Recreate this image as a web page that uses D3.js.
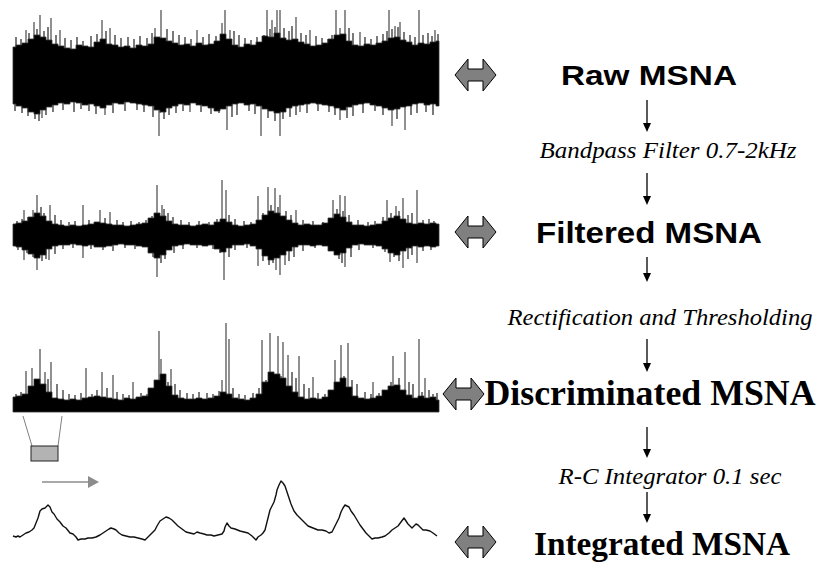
<!DOCTYPE html>
<html>
<head>
<meta charset="utf-8">
<script src="https://cdn.jsdelivr.net/npm/d3@7"></script>
<style>
  body { margin: 0; background: #ffffff; }
</style>
</head>
<body>
<div id="chart"></div>
<script>
// MSNA processing steps - four traces with labels and arrows

// Trace data (amplitudes, one sample every ~6px of the trace)
var rawUpper = [28,30,32,36,40,38,35,31,29,27,26,30,29,28,33,36,31,30,28,29,27,30,29,31,38,37,34,32,30,31,29,32,30,31,34,41,36,30,28,31,30,33,39,38,42,37,35,36,33,31,29,30,32,36,40,41,34,30,29,31,30,32,34,37,38,35,33,30,32,31,33,34];
var rawLower = [29,31,33,37,39,35,32,30,28,29,27,28,30,29,31,33,30,28,29,27,28,29,30,31,35,37,33,31,29,30,28,30,31,33,36,34,31,29,28,30,29,31,34,36,38,37,33,31,30,29,28,29,30,31,33,35,32,30,29,28,30,31,33,35,34,32,31,29,28,30,29,31];
var rawSpikesUp = [[13,45],[21,53],[27,60],[38,57],[47,45],[89,55],[97,47],[142,47],[148,65],[184,45],[209,52],[212,65],[217,45],[254,65],[259,55],[264,65],[267,65],[283,58],[297,45],[323,65],[327,47],[332,65],[347,43],[376,65],[382,49],[387,53],[406,65],[422,45]];
var rawSpikesDown = [[29,43],[92,40],[146,61],[147,38],[177,37],[214,55],[248,61],[267,61],[287,37],[327,45],[379,51],[392,55]];
var rawHairsUp = [[3,38],[8,36],[16,42],[24,46],[31,44],[35,48],[43,40],[52,37],[58,35],[64,38],[70,34],[78,39],[84,41],[93,44],[102,40],[108,37],[115,38],[121,36],[127,39],[134,37],[139,42],[154,46],[160,44],[166,40],[172,38],[178,36],[190,38],[196,41],[203,39],[221,44],[226,40],[232,37],[238,35],[244,38],[251,40],[257,46],[262,48],[271,47],[276,44],[279,49],[288,42],[293,40],[303,39],[309,37],[315,36],[319,40],[336,47],[340,42],[352,38],[358,36],[364,39],[370,41],[374,44],[379,46],[385,48],[391,43],[397,40],[402,38],[410,40],[415,42],[419,39],[425,41]];
var rawHairsDown = [[2,36],[9,38],[15,41],[22,44],[26,46],[33,40],[40,37],[50,35],[61,37],[68,34],[76,36],[83,39],[100,38],[112,36],[124,35],[131,37],[140,42],[151,44],[156,40],[163,38],[170,36],[188,37],[198,39],[206,38],[219,42],[224,40],[236,36],[242,39],[255,43],[262,46],[270,44],[277,42],[283,40],[294,38],[305,36],[316,37],[322,40],[334,43],[340,41],[350,38],[362,36],[370,40],[384,44],[398,40],[404,38],[413,37],[420,40]];

var filtUpper = [11,12,14,18,22,19,14,11,10,9,10,9,10,11,13,12,11,10,10,9,10,11,12,17,22,19,14,11,10,10,9,10,11,10,13,16,13,10,9,10,11,15,20,24,22,19,15,12,10,11,10,10,12,17,21,18,13,10,10,9,10,11,14,17,19,16,12,11,12,11,12,11];
var filtLower = [11,12,15,19,23,20,14,11,10,10,9,10,11,10,12,12,11,10,9,10,10,11,12,18,23,20,15,11,10,9,10,10,11,10,14,17,13,10,10,9,11,14,21,25,23,20,16,12,10,10,11,10,11,16,20,18,13,10,9,10,10,11,14,18,20,16,13,11,12,11,12,11];
var filtSpikesUp = [[11,25],[20,25],[24,40],[37,30],[70,30],[87,25],[97,23],[144,50],[149,30],[209,55],[213,45],[245,39],[255,48],[262,47],[267,40],[283,25],[320,35],[327,40],[332,39],[374,35],[383,29],[390,37],[404,45]];
var filtSpikesDown = [[11,25],[24,35],[36,25],[70,23],[144,42],[211,45],[245,31],[263,35],[267,40],[272,30],[332,32],[377,27],[390,33],[404,28]];
var filtHairsUp = [[4,14],[9,16],[15,18],[28,28],[31,22],[42,20],[48,15],[56,13],[62,14],[76,15],[82,13],[92,17],[104,15],[110,13],[118,14],[126,13],[133,15],[139,19],[151,26],[155,22],[160,18],[168,15],[176,13],[186,14],[196,13],[204,16],[216,20],[222,16],[231,14],[238,13],[250,22],[258,30],[265,28],[273,24],[278,20],[290,15],[300,14],[310,13],[316,16],[324,26],[330,24],[336,20],[345,15],[355,13],[362,14],[370,18],[378,22],[386,24],[395,20],[399,22],[410,15],[416,16],[421,14]];
var filtHairsDown = [[5,15],[14,18],[20,22],[29,26],[33,24],[42,19],[50,14],[60,13],[78,14],[90,15],[100,16],[112,13],[122,14],[136,17],[140,22],[148,28],[152,24],[161,18],[170,14],[184,13],[200,14],[207,18],[216,22],[222,15],[234,13],[250,26],[256,30],[260,28],[276,26],[281,22],[290,16],[302,13],[318,15],[326,24],[329,28],[338,22],[346,15],[360,13],[372,17],[381,22],[386,26],[395,24],[399,20],[410,16],[418,15]];

var discUpper = [15,16,18,26,33,28,20,14,13,12,13,12,14,15,16,15,14,13,12,14,13,15,16,24,32,38,26,17,14,13,13,14,13,14,16,20,18,14,13,12,14,18,30,40,38,34,26,20,15,13,14,13,15,22,30,34,25,16,14,13,14,16,22,26,27,22,17,14,16,14,15,12];
var discSpikes = [[13,41],[19,44],[27,63],[32,40],[38,50],[73,44],[89,40],[100,37],[120,30],[146,81],[148,53],[158,43],[209,32],[213,89],[216,73],[249,72],[257,79],[265,76],[270,70],[275,57],[286,56],[300,35],[322,52],[328,67],[335,69],[360,30],[380,56],[392,60],[406,73],[412,34]];
var discHairs = [[3,18],[8,20],[16,24],[22,30],[35,33],[44,28],[50,22],[56,18],[62,17],[68,19],[79,18],[84,22],[94,24],[104,20],[110,18],[116,17],[128,19],[134,18],[138,22],[142,26],[152,36],[155,30],[162,28],[167,22],[174,19],[180,18],[186,20],[194,19],[200,18],[206,21],[220,24],[226,18],[232,17],[240,19],[246,24],[253,32],[261,38],[268,36],[279,40],[283,34],[291,28],[296,24],[305,19],[312,18],[318,20],[325,28],[331,36],[339,32],[344,28],[352,20],[358,18],[366,19],[372,22],[378,30],[386,34],[396,30],[400,28],[409,20],[416,22],[420,18],[424,19]];

// Integrated trace: [time, amplitude]
var integrated = [[0,4],[3,3],[5,4],[7,3],[10,5],[13,7],[16,8],[19,10],[21,12],[23,17],[25,22],[27,29],[29,31],[32,32],[34,34],[35,35],[37,33],[39,28],[41,26],[44,21],[47,18],[50,14],[53,12],[57,7],[60,6],[63,3],[65,0],[68,1],[72,1],[75,2],[79,2],[83,3],[87,5],[90,7],[93,9],[96,11],[98,12],[101,11],[103,10],[106,7],[109,5],[113,4],[117,3],[121,3],[125,2],[129,1],[132,0],[135,3],[137,5],[140,8],[142,10],[144,14],[147,19],[150,21],[153,23],[156,22],[159,20],[162,17],[165,14],[169,11],[173,8],[177,7],[181,6],[184,8],[187,7],[191,6],[194,5],[198,5],[201,4],[205,5],[209,6],[211,9],[212,13],[214,17],[216,14],[218,12],[222,11],[227,9],[231,8],[235,7],[239,4],[243,0],[245,3],[248,5],[250,7],[252,10],[254,18],[257,30],[259,34],[261,38],[263,45],[264,50],[266,55],[268,59],[270,57],[272,54],[274,48],[276,42],[278,36],[281,29],[284,25],[287,22],[291,18],[295,14],[300,12],[305,10],[309,10],[313,9],[316,7],[319,8],[321,12],[323,16],[326,22],[328,28],[330,32],[332,35],[334,34],[336,33],[338,29],[341,25],[344,20],[347,15],[350,11],[353,7],[356,4],[359,1],[362,2],[365,2],[369,3],[372,4],[376,7],[379,10],[382,12],[385,14],[388,18],[391,22],[393,19],[395,16],[397,14],[399,12],[401,14],[403,16],[405,15],[408,12],[410,10],[413,10],[417,9],[420,7],[424,4]];

// Labels
var stageLabels = ['Raw MSNA', 'Filtered MSNA', 'Discriminated MSNA', 'Integrated MSNA'];
var stepLabels = ['Bandpass Filter 0.7-2kHz', 'Rectification and Thresholding', 'R-C Integrator 0.1 sec'];


// SVG
var svg = d3.select('#chart')
  .append('svg')
  .attr('width', 817)
  .attr('height', 563);


// Scales
var tMax = 426;
var xLeft = 13, xRight = 439;
var xTime = d3.scaleLinear().domain([0, tMax]).range([xLeft, xRight]);
function idxScale(arr) {
  return d3.scaleLinear().domain([0, arr.length - 1]).range([xLeft, xRight]);
}

var yRaw = d3.scaleLinear().domain([-70, 70]).range([145, 5]);
var yFilt = d3.scaleLinear().domain([-60, 60]).range([295, 175]);
var yDisc = d3.scaleLinear().domain([0, 100]).range([412, 312]);
var yInt = d3.scaleLinear().domain([0, 60]).range([540, 480]);


// Vertical strokes from the trace centre (spikes grey, hairs dark)
function drawSpikes(data, yScale, sign, cls, color, width) {
  svg.selectAll('.' + cls)
    .data(data)
    .enter()
    .append('line')
    .attr('class', cls)
    .attr('x1', function (d) { return xTime(d[0]); })
    .attr('x2', function (d) { return xTime(d[0]); })
    .attr('y1', yScale(0))
    .attr('y2', function (d) { return yScale(sign * d[1]); })
    .attr('stroke', color)
    .attr('stroke-width', width);
}

drawSpikes(rawSpikesUp, yRaw, 1, 'raw-up', '#555555', 1.3);
drawSpikes(rawSpikesDown, yRaw, -1, 'raw-down', '#555555', 1.3);
drawSpikes(filtSpikesUp, yFilt, 1, 'filt-up', '#555555', 1.3);
drawSpikes(filtSpikesDown, yFilt, -1, 'filt-down', '#555555', 1.3);
drawSpikes(discSpikes, yDisc, 1, 'disc-spike', '#555555', 1.3);

drawSpikes(rawHairsUp, yRaw, 1, 'raw-hair-up', '#222222', 1.2);
drawSpikes(rawHairsDown, yRaw, -1, 'raw-hair-down', '#222222', 1.2);
drawSpikes(filtHairsUp, yFilt, 1, 'filt-hair-up', '#222222', 1.2);
drawSpikes(filtHairsDown, yFilt, -1, 'filt-hair-down', '#222222', 1.2);
drawSpikes(discHairs, yDisc, 1, 'disc-hair', '#222222', 1.2);


// Bands
function drawBand(upper, lower, yScale) {
  var xi = idxScale(upper);
  var area = d3.area()
    .x(function (d, i) { return xi(i); })
    .y0(function (d, i) { return yScale(lower ? -lower[i] : 0); })
    .y1(function (d) { return yScale(d); })
    .curve(d3.curveStep);
  svg.append('path')
    .datum(upper)
    .attr('d', area)
    .attr('fill', '#000000')
    .attr('stroke', '#333333')
    .attr('stroke-width', 0.8);
}

drawBand(rawUpper, rawLower, yRaw);
drawBand(filtUpper, filtLower, yFilt);
drawBand(discUpper, null, yDisc);


// Integrated trace
var intLine = d3.line()
  .x(function (d) { return xTime(d[0]); })
  .y(function (d) { return yInt(d[1]); });

svg.append('path')
  .datum(integrated)
  .attr('d', intLine)
  .attr('fill', 'none')
  .attr('stroke', '#111111')
  .attr('stroke-width', 1.4)
  .attr('stroke-linejoin', 'round');


// Integrator window box below the discriminated trace
svg.append('line').attr('x1', 23).attr('y1', 416).attr('x2', 32).attr('y2', 446)
  .attr('stroke', '#808080').attr('stroke-width', 1);
svg.append('line').attr('x1', 62).attr('y1', 416).attr('x2', 58).attr('y2', 446)
  .attr('stroke', '#808080').attr('stroke-width', 1);
svg.append('rect')
  .attr('x', 31).attr('y', 446).attr('width', 27).attr('height', 15)
  .attr('fill', '#b3b3b3').attr('stroke', '#222222').attr('stroke-width', 1);

// Gray direction arrow
svg.append('line').attr('x1', 42).attr('y1', 482).attr('x2', 89).attr('y2', 482)
  .attr('stroke', '#8c8c8c').attr('stroke-width', 1.5);
svg.append('path')
  .attr('d', 'M88,476 L99,482 L88,488 Z')
  .attr('fill', '#8c8c8c');


// Double-headed gray arrows
var dblArrows = [{x: 455, y: 75}, {x: 455, y: 232}, {x: 443, y: 394}, {x: 455, y: 542}];
svg.selectAll('.dbl-arrow')
  .data(dblArrows)
  .enter()
  .append('path')
  .attr('class', 'dbl-arrow')
  .attr('d', function (d) {
    var x = d.x, y = d.y, w = 41, h = 16, s = 6, hw = 13;
    return 'M' + x + ',' + y +
      ' L' + (x + hw) + ',' + (y - h) +
      ' L' + (x + hw) + ',' + (y - s) +
      ' L' + (x + w - hw) + ',' + (y - s) +
      ' L' + (x + w - hw) + ',' + (y - h) +
      ' L' + (x + w) + ',' + y +
      ' L' + (x + w - hw) + ',' + (y + h) +
      ' L' + (x + w - hw) + ',' + (y + s) +
      ' L' + (x + hw) + ',' + (y + s) +
      ' L' + (x + hw) + ',' + (y + h) + ' Z';
  })
  .attr('fill', '#808080')
  .attr('stroke', '#000000')
  .attr('stroke-width', 1);


// Down arrows
var downArrows = [[100, 132], [173, 205], [257, 282], [339, 372], [427, 458], [492, 523]];
svg.selectAll('.down-arrow')
  .data(downArrows)
  .enter()
  .append('line')
  .attr('x1', 647).attr('x2', 647)
  .attr('y1', function (d) { return d[0]; })
  .attr('y2', function (d) { return d[1] - 8; })
  .attr('stroke', '#000000')
  .attr('stroke-width', 1.3);
svg.selectAll('.down-head')
  .data(downArrows)
  .enter()
  .append('path')
  .attr('d', function (d) { return 'M643,' + (d[1] - 9) + ' L651,' + (d[1] - 9) + ' L647,' + d[1] + ' Z'; })
  .attr('fill', '#000000');


// Stage labels
var stageSpecs = [
  {x: 649, y: 85, font: 'bold 28px "Liberation Sans", Arial, sans-serif', len: 176},
  {x: 649, y: 243, font: 'bold 30px "Liberation Sans", Arial, sans-serif', len: 226},
  {x: 650, y: 405, font: 'bold 36px "Liberation Serif", "Times New Roman", serif', len: 331},
  {x: 662, y: 555, font: 'bold 34px "Liberation Serif", "Times New Roman", serif', len: 256}
];
svg.selectAll('.stage-label')
  .data(stageLabels)
  .enter()
  .append('text')
  .attr('class', 'stage-label')
  .attr('x', function (d, i) { return stageSpecs[i].x; })
  .attr('y', function (d, i) { return stageSpecs[i].y; })
  .attr('text-anchor', 'middle')
  .attr('textLength', function (d, i) { return stageSpecs[i].len; })
  .attr('lengthAdjust', 'spacingAndGlyphs')
  .style('font', function (d, i) { return stageSpecs[i].font; })
  .text(function (d) { return d; });

// Processing step labels
var stepSpecs = [
  {x: 668, y: 158, len: 257},
  {x: 660, y: 325, len: 305},
  {x: 670, y: 484, len: 223}
];
svg.selectAll('.step-label')
  .data(stepLabels)
  .enter()
  .append('text')
  .attr('class', 'step-label')
  .attr('x', function (d, i) { return stepSpecs[i].x; })
  .attr('y', function (d, i) { return stepSpecs[i].y; })
  .attr('text-anchor', 'middle')
  .attr('textLength', function (d, i) { return stepSpecs[i].len; })
  .attr('lengthAdjust', 'spacingAndGlyphs')
  .style('font', 'italic 24px "Liberation Serif", "Times New Roman", serif')
  .text(function (d) { return d; });
</script>
</body>
</html>
